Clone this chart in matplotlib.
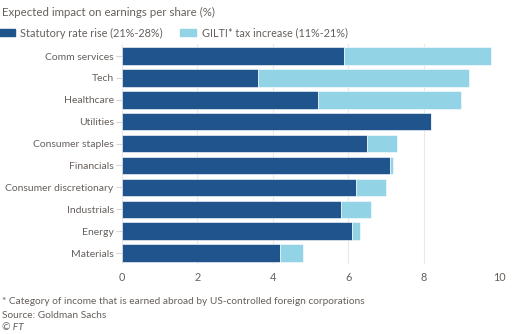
import matplotlib
matplotlib.use("Agg")
import matplotlib.pyplot as plt
import matplotlib.patches as patches

# data
sectors = ["Comm services", "Tech", "Healthcare", "Utilities", "Consumer staples",
           "Financials", "Consumer discretionary", "Industrials", "Energy", "Materials"]
statutory = [5.9, 3.6, 5.2, 8.2, 6.5, 7.1, 6.2, 5.8, 6.1, 4.2]
gilti = [3.9, 5.6, 3.8, 0.0, 0.8, 0.1, 0.8, 0.8, 0.2, 0.6]
xticks = [0, 2, 4, 6, 8, 10]

dark = "#1f558c"
light = "#93d3e6"
text_col = "#66605c"
grid_col = "#ece8e4"

plt.rcParams["font.family"] = ["Lato", "DejaVu Sans"]

fig = plt.figure(figsize=(5.12, 3.34), dpi=100)
ax = fig.add_axes([122 / 512, 1 - 264 / 334, (499 - 122) / 512, 220 / 334])

pos = list(range(len(sectors)))
ax.barh(pos, statutory, height=0.8, color=dark, edgecolor="white", linewidth=0.4, zorder=3)
ax.barh(pos, gilti, left=statutory, height=0.8, color=light, edgecolor="white",
        linewidth=0.4, zorder=3)

ax.set_xlim(0, 10)
ax.set_ylim(9.5, -0.55)
ax.set_yticks(pos)
ax.set_yticklabels(sectors)
ax.set_xticks(xticks)
ax.set_xticklabels([str(t) for t in xticks])
ax.tick_params(axis="y", length=4, color="#d8d4d0", labelsize=7.5, labelcolor=text_col, pad=2)
ax.tick_params(axis="x", length=0, labelsize=7.8, labelcolor=text_col, pad=6)
ax.grid(axis="x", color=grid_col, linewidth=0.8, zorder=0)
for s in ax.spines.values():
    s.set_visible(False)

# title and legend
fig.text(0.004, 1 - 12 / 334, "Expected impact on earnings per share (%)", fontsize=8.3,
         color=text_col, va="center", ha="left")
handles = [patches.Patch(color=dark, label="Statutory rate rise (21%-28%)"),
           patches.Patch(color=light, label="GILTI* tax increase (11%-21%)")]
fig.legend(handles=handles, loc="center left", bbox_to_anchor=(-0.003, 1 - 33 / 334), ncol=2,
           frameon=False, fontsize=7.8, labelcolor=text_col, handlelength=1.5,
           handleheight=0.55, handletextpad=0.5, columnspacing=1.6, borderaxespad=0,
           borderpad=0)

# footnotes
fig.text(0.004, 1 - 301 / 334, "* Category of income that is earned abroad by US-controlled foreign corporations",
         fontsize=7.3, color=text_col, va="center")
fig.text(0.004, 1 - 315 / 334, "Source: Goldman Sachs", fontsize=7.3, color=text_col, va="center")
fig.text(0.004, 1 - 328 / 334, "© FT", fontsize=7.3, color=text_col, va="center", style="italic")

fig.savefig("out.png", dpi=100)
